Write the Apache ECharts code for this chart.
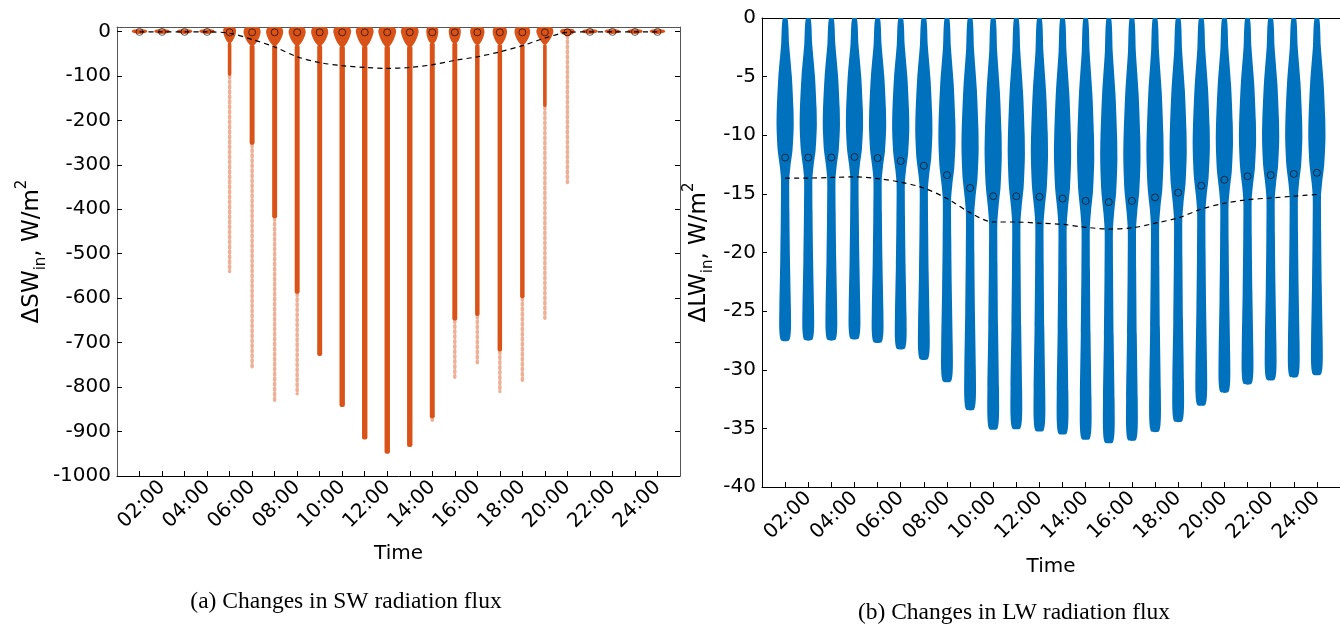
<!DOCTYPE html>
<html>
<head>
<meta charset="utf-8">
<script src="https://cdn.jsdelivr.net/npm/echarts@6/dist/echarts.min.js"></script>
<style>
html,body{margin:0;padding:0;background:#fff;}
#c{width:1340px;height:626px;}
</style>
</head>
<body>
<div id="c"></div>
<script>
// ---------- data ----------
const hours = [1,2,3,4,5,6,7,8,9,10,11,12,13,14,15,16,17,18,19,20,21,22,23,24];
const labelHours = [2,4,6,8,10,12,14,16,18,20,22,24];
const swTicks = [0,-100,-200,-300,-400,-500,-600,-700,-800,-900,-1000];
const lwTicks = [0,-5,-10,-15,-20,-25,-30,-35,-40];

// SW: lowest sparse points, end of dense stem, median (circle), mean (dashed)
const swTailMin = [0,0,0,0,-540,-760,-835,-815,-730,-845,-918,-950,-935,-875,-778,-745,-810,-785,-645,-340,0,0,0,0];
const swStemMin = [0,0,0,0,-100,-255,-420,-590,-730,-845,-918,-950,-935,-870,-650,-640,-720,-600,-170,-10,0,0,0,0];
const swMedian  = [-1,-1,-1,-1,-2,-2,-2,-2,-2,-2,-2,-2,-2,-2,-2,-2,-2,-2,-2,-2,-1,-1,-1,-1];
const swMean    = [-1,-1,-1,-1,-4,-18,-35,-57,-70,-77,-81,-83,-81,-75,-65,-57,-46,-32,-15,-2,-1,-1,-1,-1];
// SW density blob near zero: top, widest level, bottom (W/m2) and half widths (hours)
const swBlobTop    = [4,4,4,4,9,9,9,9,9,9,9,9,9,9,9,9,9,9,9,5,4,4,4,4];
const swBlobWidest = [-1,-1,-1,-1,-3,-5,-5,-5,-5,-3,-3,-3,-3,-5,-5,-5,-5,-5,-3,-2,-1,-1,-1,-1];
const swBlobBottom = [-6,-6,-6,-6,-25,-30,-30,-30,-30,-32,-32,-32,-32,-25,-25,-28,-28,-28,-28,-10,-6,-6,-6,-6];
const swBlobHW = [0.34,0.34,0.34,0.34,0.28,0.37,0.37,0.37,0.37,0.39,0.39,0.39,0.39,0.26,0.26,0.31,0.31,0.34,0.37,0.32,0.34,0.34,0.34,0.34];
const swStemHW = [0,0,0,0,0.08,0.11,0.11,0.11,0.11,0.12,0.12,0.12,0.12,0.11,0.11,0.1,0.1,0.1,0.08,0.07,0,0,0,0];

// LW: minimum, median (circle), mean (dashed)
const lwMin    = [-27.5,-27.45,-27.45,-27.35,-27.65,-28.2,-29.1,-31.0,-33.4,-35.05,-35.0,-35.2,-35.45,-35.9,-36.2,-36.0,-35.25,-34.4,-33.0,-31.9,-31.2,-30.85,-30.6,-30.4];
const lwMedian = [-11.9,-11.9,-11.9,-11.85,-11.95,-12.2,-12.6,-13.4,-14.5,-15.2,-15.2,-15.25,-15.4,-15.6,-15.7,-15.6,-15.3,-14.9,-14.3,-13.8,-13.5,-13.4,-13.3,-13.2];
const lwMean   = [-13.65,-13.65,-13.6,-13.55,-13.7,-14.0,-14.5,-15.4,-16.6,-17.4,-17.4,-17.5,-17.6,-17.85,-18.0,-17.9,-17.5,-17.05,-16.3,-15.8,-15.5,-15.35,-15.2,-15.05];
// LW violin profile: fraction of the hour's minimum, half width (hours)
const lwShapeT  = [0, 0.08, 0.18, 0.28, 0.34, 0.41, 0.46, 0.5, 0.6, 0.75, 0.9, 0.97, 1];
const lwShapeHW = [0.1, 0.17, 0.29, 0.36, 0.37, 0.32, 0.23, 0.18, 0.185, 0.21, 0.25, 0.25, 0.17];

// ---------- chart ----------
const C_SW = '#D95319', C_LW = '#0072BD';
const FONT = 'DejaVu Sans';
const chart = echarts.init(document.getElementById('c'), null, {renderer:'canvas'});

function fmtHour(v){ return (v < 10 ? '0' : '') + v + ':00'; }

function xBottom(gi, gap){
  return {
    gridIndex: gi, type:'value', min:0, max:25, position:'bottom',
    axisLine:{show:true, onZero:false, lineStyle:{color:'#000', width:1}},
    axisTick:{show:true, inside:true, length:5, customValues:hours, lineStyle:{color:'#000'}},
    axisLabel:{show:true, customValues:labelHours, formatter:fmtHour, rotate:45, margin:8,
      fontSize:20, fontFamily:FONT, color:'#000'},
    splitLine:{show:false},
    name:'Time', nameLocation:'middle', nameGap:gap,
    nameTextStyle:{fontSize:20, fontFamily:FONT, color:'#000'}
  };
}
function xTop(gi, color){
  return {gridIndex:gi, type:'value', min:0, max:25, position:'top',
    axisLine:{show:true, onZero:false, lineStyle:{color:color, width:1}},
    axisTick:{show:false}, axisLabel:{show:false}, splitLine:{show:false}};
}
const richName = {
  a:{fontSize:23, fontFamily:FONT, color:'#000', lineHeight:34, verticalAlign:'middle'},
  s:{fontSize:15, fontFamily:FONT, color:'#000', lineHeight:15, verticalAlign:'bottom'},
  p:{fontSize:15, fontFamily:FONT, color:'#000', lineHeight:15, verticalAlign:'top'}
};

const option = {
  animation:false,
  backgroundColor:'#fff',
  grid:[
    {left:117, top:27, width:563, height:449},
    {left:762, top:18, width:587, height:469}
  ],
  xAxis:[ xBottom(0, 68), xTop(0, '#555'), xBottom(1, 70), xTop(1, '#000') ],
  yAxis:[
    {gridIndex:0, type:'value', min:-1000, max:10, position:'left',
      axisLine:{show:true, onZero:false, lineStyle:{color:'#555'}},
      axisTick:{show:true, inside:true, length:5, customValues:swTicks, lineStyle:{color:'#000'}},
      axisLabel:{show:true, customValues:swTicks, formatter:v => String(v), fontSize:20, fontFamily:FONT, color:'#000', margin:6},
      splitLine:{show:false},
      name:'{a|ΔSW}{s|in}{a|, W/m}{p|2}', nameLocation:'middle', nameRotate:90, nameGap:68,
      nameTextStyle:{rich:richName}
    },
    {gridIndex:0, type:'value', min:-1000, max:10, position:'right',
      axisLine:{show:true, onZero:false, lineStyle:{color:'#555'}},
      axisTick:{show:true, inside:true, length:5, customValues:swTicks, lineStyle:{color:'#000'}},
      axisLabel:{show:false}, splitLine:{show:false}},
    {gridIndex:1, type:'value', min:-40, max:0, position:'left',
      axisLine:{show:true, onZero:false, lineStyle:{color:'#000'}},
      axisTick:{show:true, inside:true, length:5, customValues:lwTicks, lineStyle:{color:'#000'}},
      axisLabel:{show:true, customValues:lwTicks, formatter:v => String(v), fontSize:20, fontFamily:FONT, color:'#000', margin:6},
      splitLine:{show:false},
      name:'{a|ΔLW}{s|in}{a|, W/m}{p|2}', nameLocation:'middle', nameRotate:90, nameGap:46,
      nameTextStyle:{rich:richName}
    }
  ],
  graphic:[
    {type:'text', x:346, y:602, style:{text:'(a) Changes in SW radiation flux',
      font:'23.5px "Liberation Serif"', fill:'#000', textAlign:'center', textVerticalAlign:'middle'}},
    {type:'text', x:1014, y:613, style:{text:'(b) Changes in LW radiation flux',
      font:'23.5px "Liberation Serif"', fill:'#000', textAlign:'center', textVerticalAlign:'middle'}}
  ],
  series:[
    {
      type:'custom', xAxisIndex:0, yAxisIndex:0, clip:true, z:2,
      data: hours.map((h,i)=>[h, swTailMin[i], swStemMin[i], swBlobTop[i], swBlobWidest[i], swBlobBottom[i], swBlobHW[i], swStemHW[i]]),
      encode:{x:0, y:1},
      renderItem:function(params, api){
        const h = api.value(0), tail = api.value(1), stem = api.value(2);
        const top = api.value(3), wid = api.value(4), bot = api.value(5);
        const hw = api.value(6), shw = api.value(7);
        const ch = [];
        const tailStart = Math.min(stem, bot);
        if (tail < tailStart) {
          const a = api.coord([h, tailStart]), b = api.coord([h, tail]);
          ch.push({type:'line', shape:{x1:a[0], y1:a[1], x2:b[0], y2:b[1]},
            style:{stroke:C_SW, lineWidth:3.5, lineDash:[2,3], opacity:0.45, lineCap:'round'}});
        }
        if (stem < bot && shw > 0) {
          const a = api.coord([h - shw, bot]), b = api.coord([h + shw, stem]);
          ch.push({type:'rect', shape:{x:a[0], y:a[1], width:b[0]-a[0], height:b[1]-a[1], r:2},
            style:{fill:C_SW}});
        }
        const pts = [
          [h + shw, bot], [h + hw, wid], [h + hw*0.8, top], [h - hw*0.8, top], [h - hw, wid], [h - shw, bot]
        ].map(p => api.coord(p));
        ch.push({type:'polygon', shape:{points:pts, smooth:0.35}, style:{fill:C_SW}});
        return {type:'group', children:ch};
      }
    },
    {
      type:'scatter', xAxisIndex:0, yAxisIndex:0, z:3,
      data: hours.map((h,i)=>[h, swMedian[i]]),
      symbol:'circle', symbolSize:7,
      itemStyle:{color:'rgba(0,0,0,0)', borderColor:'#000', borderWidth:0.8}
    },
    {
      type:'line', xAxisIndex:0, yAxisIndex:0, z:4,
      data: hours.map((h,i)=>[h, swMean[i]]),
      smooth:0.3, symbol:'none',
      lineStyle:{color:'#000', width:1.2, type:[5,4]}
    },
    {
      type:'custom', xAxisIndex:2, yAxisIndex:2, clip:true, z:2,
      data: hours.map((h,i)=>[h, lwMin[i]]),
      encode:{x:0, y:1},
      renderItem:function(params, api){
        const h = api.value(0), mn = api.value(1);
        const right = [], left = [];
        for (let k = 0; k < lwShapeT.length; k++) {
          const y = lwShapeT[k] * mn;
          right.push(api.coord([h + lwShapeHW[k], y]));
          left.unshift(api.coord([h - lwShapeHW[k], y]));
        }
        return {type:'polygon', shape:{points:right.concat(left), smooth:0.25}, style:{fill:C_LW}};
      }
    },
    {
      type:'scatter', xAxisIndex:2, yAxisIndex:2, z:3,
      data: hours.map((h,i)=>[h, lwMedian[i]]),
      symbol:'circle', symbolSize:7,
      itemStyle:{color:'rgba(0,0,0,0)', borderColor:'#000', borderWidth:0.8}
    },
    {
      type:'line', xAxisIndex:2, yAxisIndex:2, z:4,
      data: hours.map((h,i)=>[h, lwMean[i]]),
      smooth:0.3, symbol:'none',
      lineStyle:{color:'#000', width:1.2, type:[5,4]}
    }
  ]
};
chart.setOption(option);
</script>
</body>
</html>
